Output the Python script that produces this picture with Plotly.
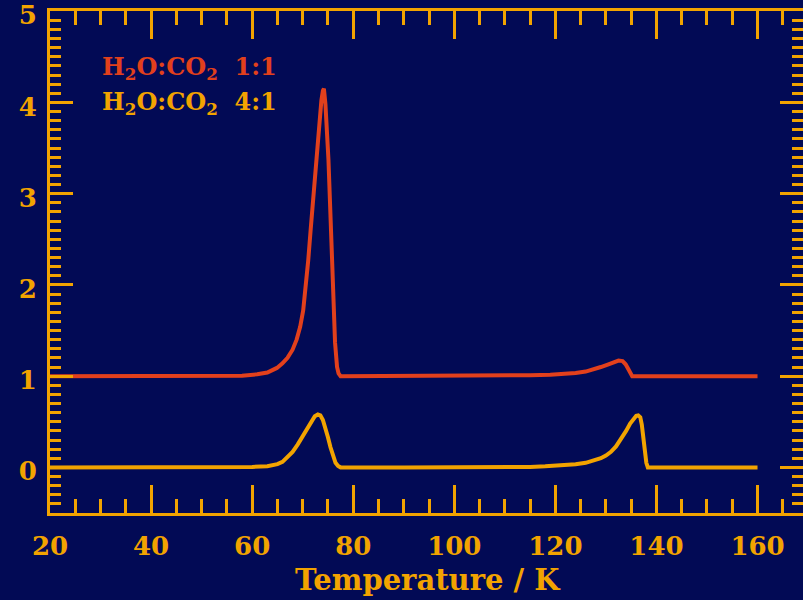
import plotly.graph_objects as go

# Data
t_11 = [20, 50, 58, 61, 63, 64.9, 66, 67, 68, 68.8, 69.5, 70.1, 70.6, 71.1, 71.6, 72.2, 72.8, 73.3,
        73.7, 74.0, 74.2, 74.5, 75.1, 75.8, 76.4, 76.8, 77.1, 77.5, 90, 105, 110, 115, 119, 122, 124,
        126, 127.5, 129, 130.5, 131.5, 132.5, 133.3, 133.9, 134.4, 134.8, 135.2, 140, 150, 160]
v_11 = [1.0, 1.0, 1.005, 1.02, 1.04, 1.09, 1.14, 1.2, 1.29, 1.4, 1.54, 1.72, 1.95, 2.27, 2.62, 3.05,
        3.45, 3.8, 4.02, 4.13, 4.15, 3.98, 3.37, 2.3, 1.37, 1.1, 1.03, 1.0, 1.0, 1.0, 1.005, 1.01,
        1.015, 1.025, 1.035, 1.05, 1.07, 1.1, 1.13, 1.155, 1.17, 1.165, 1.13, 1.08, 1.03, 1.0, 1.0,
        1.0, 1.0]

t_41 = [20, 50, 60, 63, 64, 65, 66, 67, 68, 69, 70, 71, 71.8, 72.4, 73, 73.5, 74, 74.5, 75, 75.5,
        76, 76.5, 77, 77.5, 90, 110, 115, 118, 121, 124, 126, 127.5, 129, 130, 131, 132, 133, 134,
        134.8, 135.5, 136, 136.4, 136.8, 137.1, 137.4, 137.7, 138, 138.3, 145, 160]
v_41 = [0, 0, 0.005, 0.012, 0.02, 0.035, 0.06, 0.11, 0.17, 0.25, 0.34, 0.43, 0.51, 0.56, 0.58, 0.57,
        0.52, 0.44, 0.33, 0.22, 0.12, 0.05, 0.015, 0.0, 0, 0, 0.005, 0.012, 0.02, 0.035, 0.05, 0.07,
        0.1, 0.13, 0.17, 0.23, 0.31, 0.4, 0.48, 0.54, 0.565, 0.57, 0.55, 0.47, 0.33, 0.17, 0.05, 0.0,
        0, 0]

series_names = ["H<sub>2</sub>O:CO<sub>2</sub>  1:1", "H<sub>2</sub>O:CO<sub>2</sub>  4:1"]
x_tickvals = [20, 40, 60, 80, 100, 120, 140, 160]
y_tickvals = [0, 1, 2, 3, 4, 5]
x_title = "Temperature / K"

BG = "#020a55"
ORANGE = "#f2a300"
RED = "#e2401c"
FONT = dict(family="DejaVu Serif", size=26, color=ORANGE, weight="bold")
LEG = 24

fig = go.Figure()
fig.add_trace(go.Scatter(x=t_11, y=v_11, mode="lines", line=dict(color=RED, width=4),
                         name=series_names[0], showlegend=False))
fig.add_trace(go.Scatter(x=t_41, y=v_41, mode="lines", line=dict(color=ORANGE, width=4),
                         name=series_names[1], showlegend=False))
# invisible trace for the right-hand y axis ticks
fig.add_trace(go.Scatter(x=[20], y=[0], yaxis="y2", mode="markers", marker=dict(opacity=0),
                         showlegend=False, hoverinfo="skip"))

YR = [-0.5, 5.002]
fig.update_layout(
    width=803, height=600,
    margin=dict(l=50, r=0, t=11, b=87),
    paper_bgcolor=BG, plot_bgcolor=BG,
    font=FONT,
    xaxis=dict(range=[20, 169], tickvals=x_tickvals, ticks="inside", ticklen=28, tickwidth=3,
               tickcolor=ORANGE, showline=True, linecolor=ORANGE, linewidth=3, mirror="ticks",
               showgrid=False, zeroline=False, tickfont=FONT, ticklabelstandoff=8,
               automargin=False,
               minor=dict(dtick=5, tick0=20, ticks="inside", ticklen=14, tickwidth=3,
                          tickcolor=ORANGE, showgrid=False)),
    yaxis=dict(range=YR, tickvals=y_tickvals, ticks="inside", ticklen=23, tickwidth=3,
               tickcolor=ORANGE, showline=True, linecolor=ORANGE, linewidth=3, mirror=False,
               showgrid=False, zeroline=False, tickfont=FONT, ticklabelstandoff=5,
               ticklabeloverflow="allow", ticklabelshift=4, automargin=False,
               minor=dict(dtick=0.1, tick0=0, ticks="inside", ticklen=11, tickwidth=3,
                          tickcolor=ORANGE, showgrid=False)),
    yaxis2=dict(range=YR, overlaying="y", side="right", tickvals=y_tickvals, ticks="inside",
                ticklen=23, tickwidth=3, tickcolor=ORANGE, showline=False, showgrid=False,
                zeroline=False, showticklabels=False, automargin=False,
                minor=dict(dtick=0.1, tick0=0, ticks="inside", ticklen=11, tickwidth=3,
                           tickcolor=ORANGE, showgrid=False)),
    annotations=[
        dict(text=series_names[0], xref="paper", yref="paper", x=0.066, y=0.886,
             xanchor="left", yanchor="middle", showarrow=False,
             font=dict(family="DejaVu Serif", size=LEG, color=RED, weight="bold")),
        dict(text=series_names[1], xref="paper", yref="paper", x=0.066, y=0.817,
             xanchor="left", yanchor="middle", showarrow=False,
             font=dict(family="DejaVu Serif", size=LEG, color=ORANGE, weight="bold")),
        dict(text=x_title, xref="paper", yref="paper", x=0.502, y=-0.1335,
             xanchor="center", yanchor="middle", showarrow=False,
             font=dict(family="DejaVu Serif", size=29, color=ORANGE, weight="bold")),
    ],
)

fig.write_html("out.html")
